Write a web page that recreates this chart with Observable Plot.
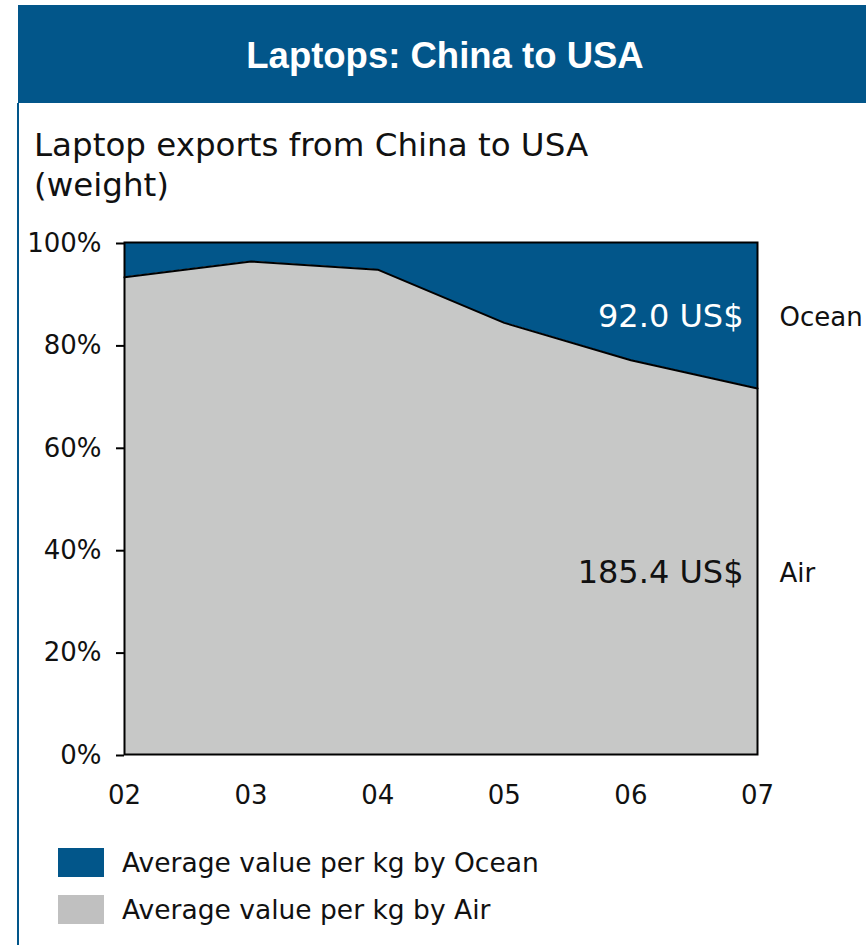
<!DOCTYPE html>
<html>
<head>
<meta charset="utf-8">
<script src="https://cdn.jsdelivr.net/npm/d3@7"></script>
<script src="https://cdn.jsdelivr.net/npm/@observablehq/plot@0.6"></script>
<style>
  html, body { margin: 0; padding: 0; background: #fff; }
  #page { position: relative; width: 866px; height: 945px; overflow: hidden; font-family: "DejaVu Sans", Verdana, sans-serif; }
  #header { position: absolute; left: 18px; top: 5px; width: 848px; height: 98px; background: #02568a; color: #fff;
            font-family: "Liberation Sans", Arial, sans-serif; font-weight: bold; font-size: 36.5px;
            display: flex; align-items: center; justify-content: center; box-sizing: border-box; }
  #header span { position: relative; left: 3px; top: 2px; }
  #leftline { position: absolute; left: 17px; top: 103px; width: 2px; height: 842px; background: #02568a; }
  #subtitle { position: absolute; left: 34px; top: 125px; font-size: 32.5px; line-height: 40px; color: #111; }
  #chart { position: absolute; left: 0; top: 210px; }
  .leg { position: absolute; left: 58px; display: flex; align-items: center; font-size: 26.5px; color: #111; }
  .sw { width: 46px; height: 29px; margin-right: 18px; }
</style>
</head>
<body>
<div id="page">
  <div id="header"><span>Laptops: China to USA</span></div>
  <div id="leftline"></div>
  <div id="subtitle">Laptop exports from China to USA<br>(weight)</div>
  <div id="chart"></div>
  <div class="leg" style="top:847px"><div class="sw" style="background:#02568a"></div>Average value per kg by Ocean</div>
  <div class="leg" style="top:894px"><div class="sw" style="background:#c0c0c0"></div>Average value per kg by Air</div>
</div>
<script>
// Data
const years = [2002, 2003, 2004, 2005, 2006, 2007];
const yearLabels = ["02", "03", "04", "05", "06", "07"];
const airShare = [93.2, 96.3, 94.7, 84.3, 77.0, 71.5];   // % of weight by air
const seriesNames = ["Ocean", "Air"];
const seriesValues = ["92.0 US$", "185.4 US$"];
const yTicks = [0, 20, 40, 60, 80, 100];

const oceanColor = "#02568a";
const airColor = "#c7c8c7";

const rows = years.map((y, i) => ({year: y, air: airShare[i], total: 100}));
const last = rows[rows.length - 1];
const labelRows = [
  {name: seriesNames[0], value: seriesValues[0], year: last.year, mid: (last.air + last.total) / 2, fill: "#fff"},
  {name: seriesNames[1], value: seriesValues[1], year: last.year, mid: last.air / 2, fill: "#111"}
];

const chart = Plot.plot({
  width: 866,
  height: 620,
  marginTop: 32,
  marginBottom: 76,
  marginLeft: 124,
  marginRight: 109,
  style: {fontFamily: "DejaVu Sans, Verdana, sans-serif", fontSize: "26px", color: "#111", background: "transparent"},
  x: {domain: [years[0], years[years.length - 1]], ticks: years, tickFormat: (d) => yearLabels[years.indexOf(d)]},
  y: {domain: [0, 100], ticks: yTicks, tickFormat: (d) => d + "%"},
  marks: [
    Plot.areaY(rows, {x: "year", y1: "air", y2: "total", fill: oceanColor}),
    Plot.areaY(rows, {x: "year", y1: 0, y2: "air", fill: airColor}),
    Plot.lineY(rows, {x: "year", y: "air", stroke: "#000", strokeWidth: 2}),
    Plot.frame({stroke: "#000", strokeWidth: 2}),
    Plot.axisY({ticks: yTicks, tickFormat: (d) => d + "%", tickSize: 8, tickPadding: 15, dy: 1, stroke: "#000", strokeWidth: 2, strokeOpacity: 1, fontSize: 26, label: null}),
    Plot.axisX({ticks: years, tickFormat: (d) => yearLabels[years.indexOf(d)], tickSize: 0, tickPadding: 31, fontSize: 26, label: null}),
    Plot.text(labelRows, {x: "year", y: "mid", text: "value", fill: "fill", textAnchor: "end", dx: -14, dy: 1, fontSize: 32}),
    Plot.text(labelRows, {x: "year", y: "mid", text: "name", fill: "#111", textAnchor: "start", dx: 22, dy: 2, fontSize: 26})
  ]
});
document.getElementById("chart").appendChild(chart);
</script>
</body>
</html>
